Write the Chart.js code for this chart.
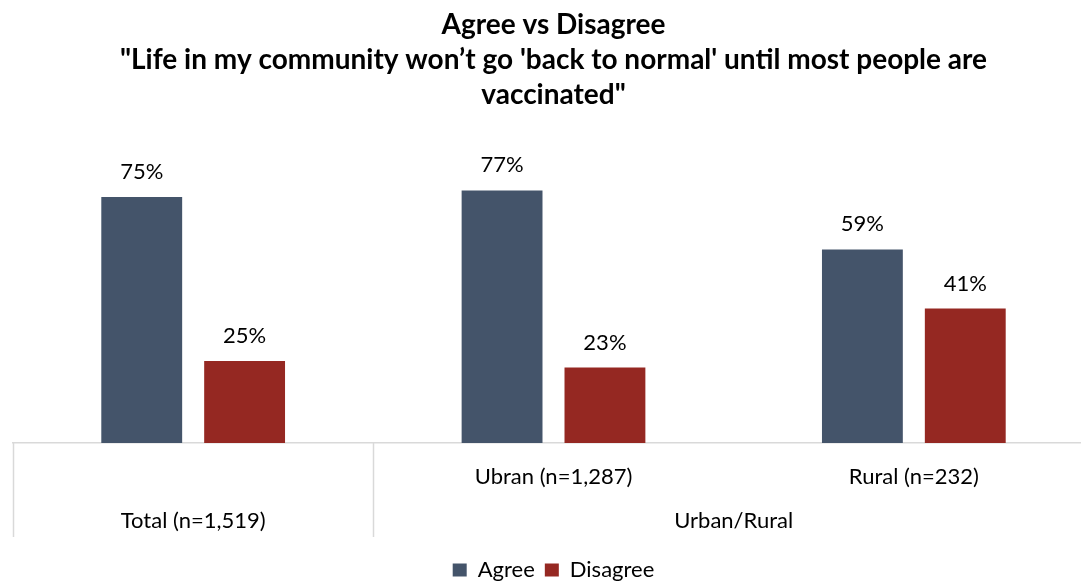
<!DOCTYPE html>
<html>
<head>
<meta charset="utf-8">
<script src="https://cdn.jsdelivr.net/npm/chart.js@4/dist/chart.umd.min.js"></script>
<style>
  html, body { margin: 0; padding: 0; background: #fff; overflow: hidden; }
  #wrap { width: 1081px; height: 581px; overflow: hidden; }
  #box { width: 1106px; height: 591px; }
</style>
</head>
<body>
<div id="wrap"><div id="box"><canvas id="chart"></canvas></div></div>
<script>
// Survey data
const titleLines = ['Agree vs Disagree', '"Life in my community won\u2019t go \'back to normal\' until most people are', 'vaccinated"'];
const subLabels = ['', 'Ubran (n=1,287)', 'Rural (n=232)'];
const groupLabels = ['Total (n=1,519)', 'Urban/Rural'];
const groupCenters = [0.5, 2];      // in category units
const groupEdges = [0, 1, 3];       // separators between groups
const agree = [75, 77, 59];
const disagree = [25, 23, 41];

const FONT = 'Lato, "Open Sans", sans-serif';

// value labels above each bar, and the group separators under the axis
const extras = {
    id: 'extras',
    afterDatasetsDraw(chart) {
        const ctx = chart.ctx;
        ctx.save();
        ctx.fillStyle = '#000';
        ctx.font = '22px ' + FONT;
        ctx.textAlign = 'center';
        ctx.textBaseline = 'alphabetic';
        chart.data.datasets.forEach((ds, i) => {
            chart.getDatasetMeta(i).data.forEach((bar, j) => {
                ctx.fillText(ds.data[j] + '%', bar.x, bar.y - 18);
            });
        });
        ctx.restore();
    },
    afterDraw(chart) {
        const x = chart.scales.x;
        const x2 = chart.scales.x2;
        const ctx = chart.ctx;
        ctx.save();
        ctx.strokeStyle = '#d9d9d9';
        ctx.lineWidth = 1.5;
        groupEdges.forEach(e => {
            const px = Math.round(x2.getPixelForValue(e)) + 0.5;
            ctx.beginPath();
            ctx.moveTo(px, x.top);
            ctx.lineTo(px, 537);
            ctx.stroke();
        });
        ctx.restore();
    }
};

const ctx = document.getElementById('chart').getContext('2d');
new Chart(ctx, {
    type: 'bar',
    data: {
        labels: subLabels,
        datasets: [
            { label: 'Agree', data: agree, backgroundColor: '#44546a' },
            { label: 'Disagree', data: disagree, backgroundColor: '#952822' }
        ]
    },
    options: {
        responsive: true,
        maintainAspectRatio: false,
        animation: false,
        categoryPercentage: 0.571,
        barPercentage: 0.786,
        layout: { padding: { left: 13, right: 12, top: 0, bottom: 0 } },
        plugins: {
            title: {
                display: true,
                text: titleLines,
                color: '#000',
                font: { family: FONT, size: 28, weight: 'bold', lineHeight: 1.25 },
                padding: { top: 7, bottom: 3 }
            },
            legend: {
                position: 'bottom',
                labels: {
                    color: '#000',
                    font: { family: FONT, size: 22 },
                    boxWidth: 14,
                    boxHeight: 13,
                    padding: 10
                }
            },
            tooltip: { enabled: false }
        },
        scales: {
            y: {
                display: false,
                min: 0,
                max: 100
            },
            x: {
                grid: { display: false, drawTicks: true, tickLength: 21 },
                border: { display: true, color: '#d9d9d9', width: 1.5 },
                ticks: {
                    color: '#000',
                    font: { family: FONT, size: 22 },
                    padding: 0,
                    maxRotation: 0
                }
            },
            x2: {
                type: 'linear',
                position: 'bottom',
                offset: false,
                min: 0,
                max: 3,
                grid: { display: false, drawTicks: true, tickLength: 3 },
                border: { display: false },
                afterBuildTicks: scale => {
                    scale.ticks = groupCenters.map(v => ({ value: v }));
                },
                ticks: {
                    color: '#000',
                    font: { family: FONT, size: 22 },
                    padding: 14.6,
                    maxRotation: 0,
                    autoSkip: false,
                    callback: (v, i) => groupLabels[i]
                }
            }
        }
    },
    plugins: [extras]
});
</script>
</body>
</html>
